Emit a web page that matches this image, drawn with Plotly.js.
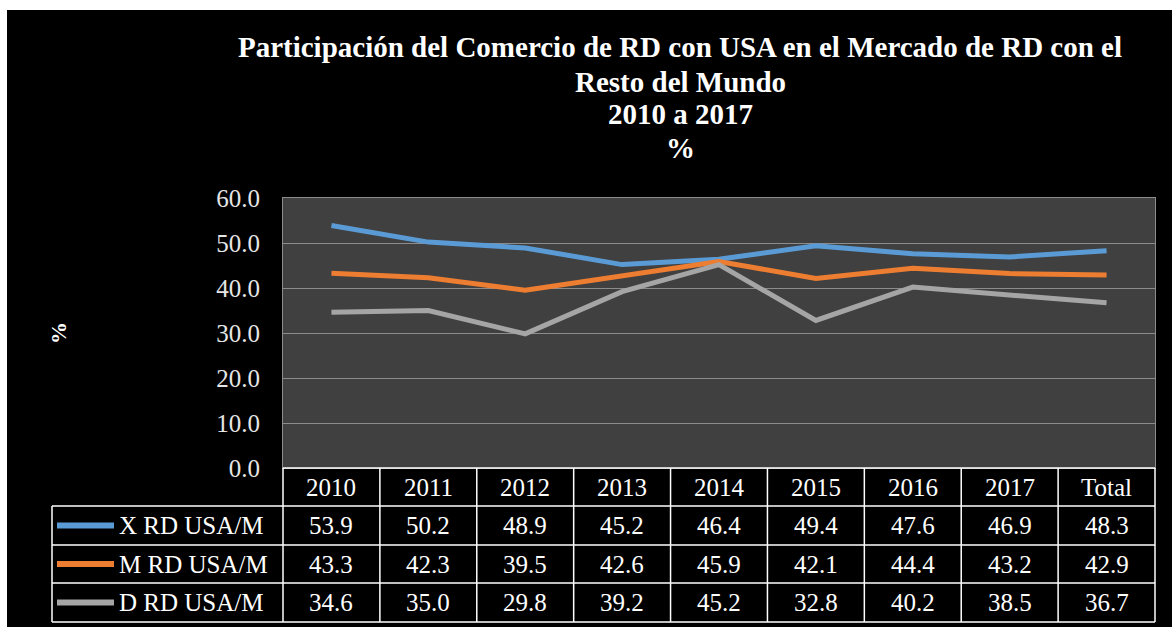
<!DOCTYPE html>
<html>
<head>
<meta charset="utf-8">
<script src="https://cdn.plot.ly/plotly-3.0.1.min.js"></script>
<style>
html,body{margin:0;padding:0;background:#ffffff;width:1172px;height:629px;overflow:hidden;}
#chart{position:absolute;left:7px;top:10px;width:1165px;height:617px;}
</style>
</head>
<body>
<div id="chart"></div>
<script>
// ---- data ----
const categories = ["2010","2011","2012","2013","2014","2015","2016","2017","Total"];
const seriesNames = ["X RD USA/M","M RD USA/M","D RD USA/M"];
const xValues = [53.9,50.2,48.9,45.2,46.4,49.4,47.6,46.9,48.3];
const mValues = [43.3,42.3,39.5,42.6,45.9,42.1,44.4,43.2,42.9];
const dValues = [34.6,35.0,29.8,39.2,45.2,32.8,40.2,38.5,36.7];
const seriesColors = ["#5B9BD5","#ED7D31","#A5A5A5"];
const allValues = [xValues, mValues, dValues];
const titleLines = ["Participación del Comercio de RD con USA en el Mercado de RD con el","Resto del Mundo","2010 a 2017","%"];

// ---- geometry (pixels inside the chart div) ----
const FW = 1165, FH = 617;
const L = 276, R = 1148, T = 188, B = 458;
const W = R - L, H = B - T;
const xp = px => (px - L) / W;
const yp = py => (B - py) / H;
const rows = [458, 496, 535, 573, 612];
const legLeft = 45;
const n = categories.length;
const colW = W / n;
const FONT = "'Liberation Serif', 'Times New Roman', serif";

const traces = allValues.map((vals, i) => ({
  type: "scatter",
  mode: "lines",
  name: seriesNames[i],
  x: categories.map((c, k) => k),
  y: vals,
  line: {color: seriesColors[i], width: 5, shape: "linear"},
  hoverinfo: "skip"
}));

const shapes = [];
const annotations = [];
const white = {color: "#ffffff", width: 1.5};
shapes.push({type:"line", xref:"paper", yref:"paper", x0:xp(L), x1:xp(R), y0:yp(rows[0]), y1:yp(rows[0]), line:white});
for (let r = 1; r < rows.length; r++) {
  shapes.push({type:"line", xref:"paper", yref:"paper", x0:xp(legLeft), x1:xp(R), y0:yp(rows[r]), y1:yp(rows[r]), line:white});
}
for (let c = 0; c <= n; c++) {
  const x = L + c * colW;
  shapes.push({type:"line", xref:"paper", yref:"paper", x0:xp(x), x1:xp(x), y0:yp(rows[0]), y1:yp(rows[4]), line:white});
}
shapes.push({type:"line", xref:"paper", yref:"paper", x0:xp(legLeft), x1:xp(legLeft), y0:yp(rows[1]), y1:yp(rows[4]), line:white});

categories.forEach((c, k) => {
  annotations.push({xref:"paper", yref:"paper", x:xp(L + (k + 0.5) * colW), y:yp((rows[0] + rows[1]) / 2),
    text:c, showarrow:false, xanchor:"center", yanchor:"middle", font:{family:FONT, size:25, color:"#ffffff"}});
});
allValues.forEach((vals, i) => {
  const yc = (rows[i + 1] + rows[i + 2]) / 2;
  vals.forEach((v, k) => {
    annotations.push({xref:"paper", yref:"paper", x:xp(L + (k + 0.5) * colW), y:yp(yc),
      text:v.toFixed(1), showarrow:false, xanchor:"center", yanchor:"middle", font:{family:FONT, size:25, color:"#ffffff"}});
  });
  shapes.push({type:"line", xref:"paper", yref:"paper", x0:xp(50), x1:xp(107), y0:yp(yc), y1:yp(yc),
    line:{color:seriesColors[i], width:6}});
  annotations.push({xref:"paper", yref:"paper", x:xp(110), y:yp(yc), text:seriesNames[i], showarrow:false,
    xanchor:"left", yanchor:"middle", font:{family:FONT, size:25, color:"#ffffff"}});
});

// title lines 2..4 as annotations for exact line spacing
const titleCenters = [37, 72, 104, 138];
for (let i = 1; i < titleLines.length; i++) {
  annotations.push({xref:"paper", yref:"paper", x:xp(673), y:yp(titleCenters[i]), text:"<b>" + titleLines[i] + "</b>",
    showarrow:false, xanchor:"center", yanchor:"middle", font:{family:FONT, size:29, color:"#ffffff"}});
}

const layout = {
  width: FW, height: FH,
  paper_bgcolor: "#000000",
  plot_bgcolor: "#404040",
  margin: {l: L, r: FW - R, t: T, b: FH - B, pad: 0},
  showlegend: false,
  title: {
    text: "<b>" + titleLines[0] + "</b>",
    font: {family: FONT, size: 29, color: "#ffffff"},
    xref: "paper", x: xp(673), xanchor: "center",
    yref: "container", y: 1 - titleCenters[0] / FH, yanchor: "middle"
  },
  xaxis: {
    range: [-0.5, n - 0.5], showticklabels: false, showgrid: false, zeroline: false,
    showline: true, linecolor: "#8c8c8c", linewidth: 1, mirror: true, fixedrange: true
  },
  yaxis: {
    range: [0, 60], dtick: 10, tick0: 0, tickformat: ".1f",
    showgrid: true, gridcolor: "#8c8c8c", gridwidth: 1, zeroline: false,
    showline: true, linecolor: "#8c8c8c", linewidth: 1, mirror: true,
    ticks: "", ticklabelstandoff: 17,
    tickfont: {family: FONT, size: 25, color: "#e6e6e6"},
    title: {text: "<b>%</b>", font: {family: FONT, size: 22, color: "#ffffff"}, standoff: 143},
    fixedrange: true
  },
  shapes: shapes,
  annotations: annotations
};

Plotly.newPlot("chart", traces, layout, {displayModeBar: false, staticPlot: true});
</script>
</body>
</html>
